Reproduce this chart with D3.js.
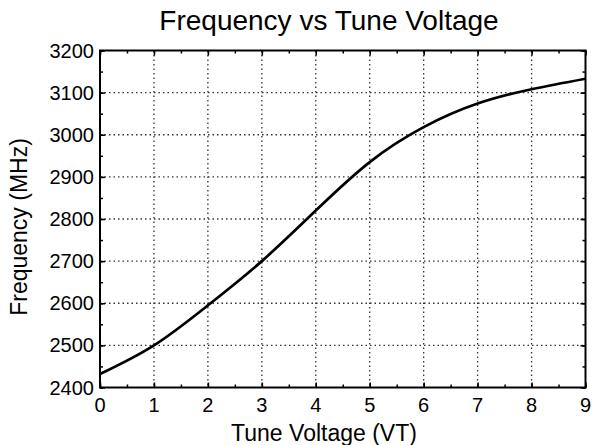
<!DOCTYPE html>
<html>
<head>
<meta charset="utf-8">
<script src="https://cdn.jsdelivr.net/npm/d3@7"></script>
<style>
body { margin: 0; background: #fff; }
text { font-family: "Liberation Sans", Arial, sans-serif; fill: #000; }
</style>
</head>
<body>
<svg width="592" height="445"></svg>
<script>
// curve
var voltage = [0, 1, 2, 3, 4, 5, 6, 7, 8, 9];
var frequency = [2432, 2500, 2595, 2700, 2820, 2935, 3018, 3074, 3108, 3133];
var xTicks = [0, 1, 2, 3, 4, 5, 6, 7, 8, 9];
var yTicks = [2400, 2500, 2600, 2700, 2800, 2900, 3000, 3100, 3200];

var svg = d3.select("svg");
// plot box (note: "top" is taken by window.top)
var pLeft = 100, pRight = 585.5, pTop = 50.5, pBottom = 387.5;

var x = d3.scaleLinear().domain([0, 9]).range([pLeft, pRight]);
var y = d3.scaleLinear().domain([2400, 3200]).range([pBottom, pTop]);

// grid
svg.append("g")
	.selectAll("line")
	.data(xTicks.slice(1, -1))
	.enter()
	.append("line")
	.attr("x1", d => x(d)).attr("x2", d => x(d))
	.attr("y1", pTop).attr("y2", pBottom)
	.style("stroke", "#333")
	.style("stroke-width", 1.3)
	.style("stroke-dasharray", "1.5,3");

svg.append("g")
	.selectAll("line")
	.data(yTicks.slice(1, -1))
	.enter()
	.append("line")
	.attr("y1", d => y(d)).attr("y2", d => y(d))
	.attr("x1", pLeft).attr("x2", pRight)
	.style("stroke", "#333")
	.style("stroke-width", 1.3)
	.style("stroke-dasharray", "1.5,3");

// axes with inward ticks
var minorX = d3.range(0, 9.01, 0.5);
var minorY = d3.range(2400, 3201, 50);

function inward(axis, vals, size) {
	return axis.tickValues(vals).tickSize(size).tickFormat("");
}

svg.append("g").attr("transform", `translate(0,${pBottom})`)
	.call(inward(d3.axisTop(x), minorX, 3));
svg.append("g").attr("transform", `translate(0,${pBottom})`)
	.call(inward(d3.axisTop(x), xTicks, 5));
svg.append("g").attr("transform", `translate(0,${pTop})`)
	.call(inward(d3.axisBottom(x), minorX, 3));
svg.append("g").attr("transform", `translate(0,${pTop})`)
	.call(inward(d3.axisBottom(x), xTicks, 5));
svg.append("g").attr("transform", `translate(${pLeft},0)`)
	.call(inward(d3.axisRight(y), minorY, 3));
svg.append("g").attr("transform", `translate(${pLeft},0)`)
	.call(inward(d3.axisRight(y), yTicks, 5));
svg.append("g").attr("transform", `translate(${pRight},0)`)
	.call(inward(d3.axisLeft(y), minorY, 3));
svg.append("g").attr("transform", `translate(${pRight},0)`)
	.call(inward(d3.axisLeft(y), yTicks, 5));

svg.selectAll(".domain").remove();
svg.selectAll(".tick line").style("stroke", "#000").style("stroke-width", 1.5);

svg.append("rect")
	.attr("x", pLeft).attr("y", pTop)
	.attr("width", pRight - pLeft).attr("height", pBottom - pTop)
	.style("fill", "none")
	.style("stroke", "#000")
	.style("stroke-width", 2);

// tick labels
svg.append("g")
	.selectAll("text")
	.data(xTicks)
	.enter()
	.append("text")
	.text(d => d)
	.attr("x", d => x(d))
	.attr("y", 412)
	.attr("text-anchor", "middle")
	.style("font-size", "20px");

svg.append("g")
	.selectAll("text")
	.data(yTicks)
	.enter()
	.append("text")
	.text(d => d)
	.attr("x", 94)
	.attr("y", d => y(d) + 7)
	.attr("text-anchor", "end")
	.style("font-size", "20px");

// curve
var line = d3.line()
	.x((d, i) => x(voltage[i]))
	.y(d => y(d))
	.curve(d3.curveNatural);

svg.append("path")
	.datum(frequency)
	.attr("d", line)
	.style("fill", "none")
	.style("stroke", "#000")
	.style("stroke-width", 2.7);

// titles
svg.append("text")
	.text("Frequency vs Tune Voltage")
	.attr("x", 329)
	.attr("y", 30)
	.attr("text-anchor", "middle")
	.style("font-size", "28px");

svg.append("text")
	.text("Tune Voltage (VT)")
	.attr("x", 324)
	.attr("y", 441)
	.attr("text-anchor", "middle")
	.style("font-size", "23px");

svg.append("text")
	.text("Frequency (MHz)")
	.attr("transform", `translate(27,${(pTop + pBottom) / 2 + 8}) rotate(-90)`)
	.attr("text-anchor", "middle")
	.style("font-size", "23px");
</script>
</body>
</html>
